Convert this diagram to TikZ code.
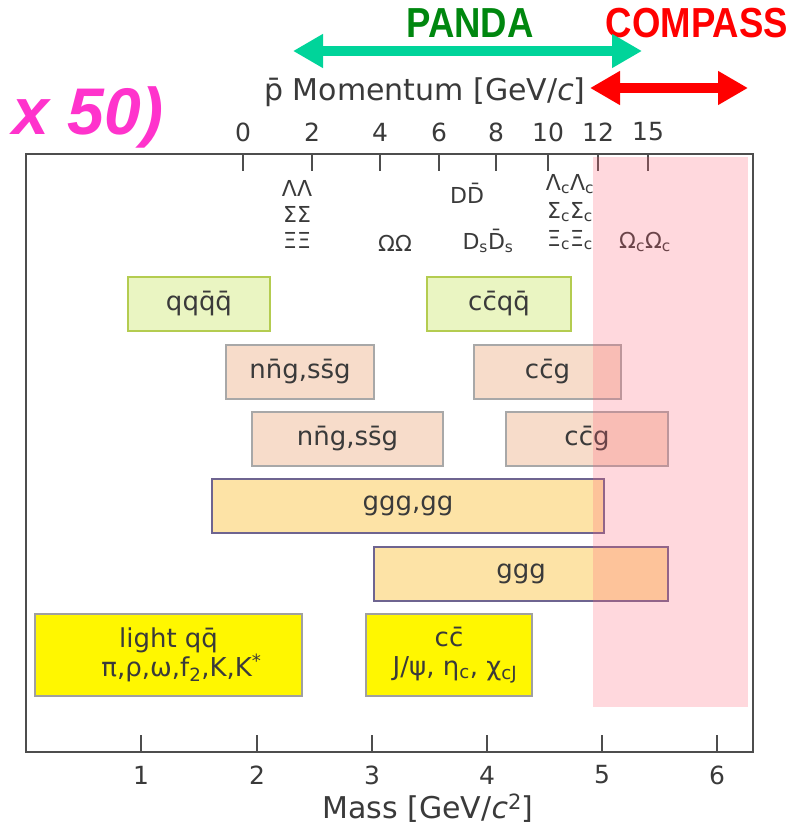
\documentclass[tikz,border=0pt]{standalone}
\usepackage{fontspec}
\setmainfont{DejaVu Sans}
\newfontfamily\headfont{Liberation Sans}
\usepackage{tikz}
\usetikzlibrary{arrows.meta}
\usepackage{xcolor}
\definecolor{mInk}{HTML}{3A3A3A}
\definecolor{mFrame}{HTML}{4D4D4D}
\definecolor{mPanda}{HTML}{00D49A}
\definecolor{mPandaText}{HTML}{00870F}
\definecolor{mCompass}{HTML}{FF0000}
\definecolor{mMagenta}{HTML}{FF33CC}
\definecolor{mPink}{HTML}{FF6478}
\definecolor{mTetraFill}{HTML}{EAF5C2}
\definecolor{mTetraLine}{HTML}{B4CC50}
\definecolor{mHybFill}{HTML}{F7DCCA}
\definecolor{mHybLine}{HTML}{A8A8A8}
\definecolor{mGlueFill}{HTML}{FDE3A6}
\definecolor{mGlueLine}{HTML}{6E6490}
\definecolor{mMesFill}{HTML}{FFF700}
\definecolor{mMesLine}{HTML}{A0A0A0}
\newcommand{\ab}[1]{\={#1}}

\begin{document}
\begin{tikzpicture}[x=1pt, y=-1pt, text=mInk,
    tick/.style={mFrame, line width=1.8pt},
    ticklbl/.style={font=\fontsize{25}{28}\selectfont},
    axislbl/.style={font=\fontsize{30}{34}\selectfont},
    hadron/.style={font=\fontsize{22}{24}\selectfont, inner sep=0pt},
    boxlbl/.style={font=\fontsize{26}{29}\selectfont, line width=2pt, align=center,
                   minimum height=54pt, inner sep=0pt},
    tetra/.style={boxlbl, fill=mTetraFill, draw=mTetraLine},
    hybrid/.style={boxlbl, fill=mHybFill, draw=mHybLine},
    glue/.style={boxlbl, fill=mGlueFill, draw=mGlueLine},
    meson/.style={boxlbl, fill=mMesFill, draw=mMesLine, minimum height=82pt},
    bigarrow/.style={line width=10pt,
                     {Triangle[length=30pt,width=32pt]}-{Triangle[length=30pt,width=32pt]}},
    headline/.style={font=\headfont\bfseries\fontsize{42}{44}\selectfont, inner sep=0pt,
                     xscale=0.87, transform shape}]
  \useasboundingbox (0,0) rectangle (810,832);
  % experiments on top
  \node[headline, text=mPandaText] (panda) at (470,23) {PANDA};
  \node[headline, text=mCompass] (compass) at (697,23) {COMPASS};
  \coordinate (pandaL) at (293,51);
  \coordinate (pandaR) at (642,51);
  \draw[bigarrow, mPanda] (pandaL) -- (pandaR);
  \coordinate (compL) at (590,88);
  \coordinate (compR) at (748,88);
  \draw[bigarrow, mCompass] (compL) -- (compR);
  \node[font=\headfont\bfseries\itshape\fontsize{66}{70}\selectfont, text=mMagenta, inner sep=0pt]
    (zoomtxt) at (88,117) {x 50)};
  % antiproton momentum axis
  \node[axislbl] (momlbl) at (425,92) {\ab{p} Momentum [GeV/\textit{c}]};
  \foreach \p/\x in {0/243, 2/312, 4/380, 6/439, 8/496, 10/548, 12/598, 15/648} {
    \draw[tick] (\x,154) -- (\x,171);
    \node[ticklbl] (p\p) at (\x,132) {\p};
  }
  % mass axis
  \foreach \m/\x in {1/141, 2/257, 3/372, 4/487, 5/602, 6/717} {
    \draw[tick] (\x,752) -- (\x,735);
    \node[ticklbl] (m\m) at (\x,775) {\m};
  }
  \node[axislbl] (masslbl) at (428,808) {Mass [GeV/\textit{c}\textsuperscript{2}]};
  % thresholds
  \node[hadron] (LL) at (297,188) {ΛΛ};
  \node[hadron] (SS) at (297,214) {ΣΣ};
  \node[hadron] (XX) at (297,240) {ΞΞ};
  \node[hadron] (OO) at (395,243) {ΩΩ};
  \node[hadron] (DD) at (467,193) {D\ab{D}};
  \node[hadron] (DsDs) at (488,241) {D\textsubscript{s}\ab{D}\textsubscript{s}};
  \node[hadron] (LcLc) at (570,184) {Λ\textsubscript{c}Λ\textsubscript{c}};
  \node[hadron] (ScSc) at (570,212) {Σ\textsubscript{c}Σ\textsubscript{c}};
  \node[hadron] (XcXc) at (570,240) {Ξ\textsubscript{c}Ξ\textsubscript{c}};
  \node[hadron] (OcOc) at (645,242) {Ω\textsubscript{c}Ω\textsubscript{c}};
  % exotic states
  \node[tetra, minimum width=142pt] (qqqq) at (199,304) {qq\ab{q}\ab{q}};
  \node[tetra, minimum width=144pt] (ccqq) at (499,304) {c\ab{c}q\ab{q}};
  \node[hybrid, minimum width=148pt] (nngA) at (300,372) {n\ab{n}g,s\ab{s}g};
  \node[hybrid, minimum width=147pt] (ccgA) at (547.5,372) {c\ab{c}g};
  \node[hybrid, minimum width=191pt] (nngB) at (347.5,439) {n\ab{n}g,s\ab{s}g};
  \node[hybrid, minimum width=162pt] (ccgB) at (587,439) {c\ab{c}g};
  \node[glue, minimum width=392pt] (gggg) at (408,506) {ggg,gg};
  \node[glue, minimum width=294pt] (ggg) at (521,574) {ggg};
  % conventional mesons
  \node[meson, minimum width=267pt] (lightqq) at (168.5,655)
    {light q\ab{q}\\ \hspace*{26pt}π,ρ,ω,f\textsubscript{2},K,K\textsuperscript{*}};
  \node[meson, minimum width=166pt] (ccbar) at (449,655)
    {c\ab{c}\\ \hspace*{12pt}J/ψ, η\textsubscript{c}, χ\textsubscript{cJ}};
  % compass reach
  \fill[mPink, fill opacity=0.25] (593,157) rectangle (748,707);
  \draw[mFrame, line width=2.5pt] (26,154) rectangle (753,752);
\end{tikzpicture}
\end{document}
